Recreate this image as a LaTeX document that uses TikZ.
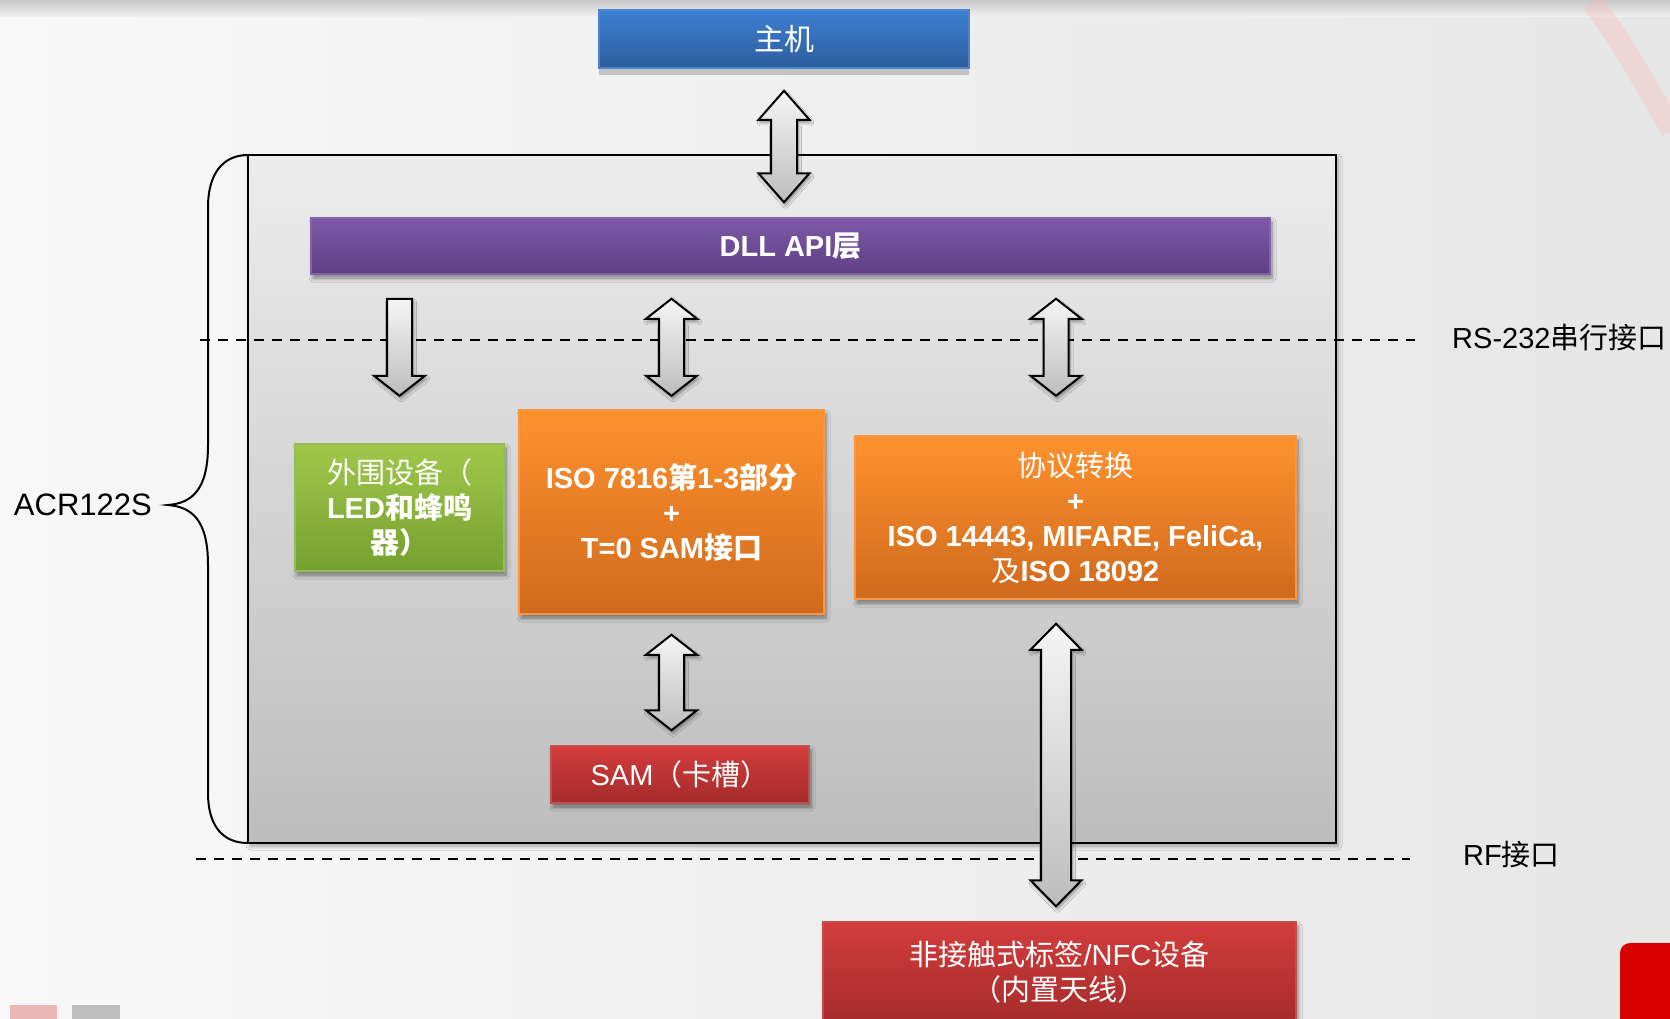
\documentclass[tikz,border=0pt]{standalone}
\usepackage{fontspec}
\setmainfont{Liberation Sans}
\newfontfamily\cjk{Noto Sans CJK SC}
\usetikzlibrary{shadows,shadows.blur,calc}
\definecolor{bluetop}{HTML}{3D80D4}
\definecolor{bluebot}{HTML}{2D5E9C}
\definecolor{blueedge}{HTML}{4A86D0}
\definecolor{purtop}{HTML}{7E59A8}
\definecolor{purbot}{HTML}{5E3F84}
\definecolor{puredge}{HTML}{8064A6}
\definecolor{grntop}{HTML}{9FC84A}
\definecolor{grnbot}{HTML}{75A030}
\definecolor{grnedge}{HTML}{9BBB59}
\definecolor{orgtop}{HTML}{FF922E}
\definecolor{orgbot}{HTML}{CF6A1D}
\definecolor{orgedge}{HTML}{F79646}
\definecolor{redtop}{HTML}{D33D3C}
\definecolor{redbot}{HTML}{A52B2B}
\definecolor{rededge}{HTML}{C0504D}
\definecolor{bgleft}{HTML}{F8F8F8}
\definecolor{bgright}{HTML}{E6E6E6}
\definecolor{maintop}{HTML}{ECECEC}
\definecolor{mainbot}{HTML}{BDBDBD}

\newcommand\dblarr[5]{%
  \path[arrowbox] let \p1=#1, \p2=#2 in
   (\x1,\y1) -- ({\x1+#5pt},{\y1-#3pt}) -- ({\x1+#4pt},{\y1-#3pt})
   -- ({\x1+#4pt},{\y2+#3pt}) -- ({\x1+#5pt},{\y2+#3pt}) -- (\x1,\y2)
   -- ({\x1-#5pt},{\y2+#3pt}) -- ({\x1-#4pt},{\y2+#3pt})
   -- ({\x1-#4pt},{\y1-#3pt}) -- ({\x1-#5pt},{\y1-#3pt}) -- cycle;}
\newcommand\downarr[5]{%
  \path[arrowbox] let \p1=#1, \p2=#2 in
   ({\x1-#4pt},\y1) -- ({\x1+#4pt},\y1)
   -- ({\x1+#4pt},{\y2+#3pt}) -- ({\x1+#5pt},{\y2+#3pt}) -- (\x1,\y2)
   -- ({\x1-#5pt},{\y2+#3pt}) -- ({\x1-#4pt},{\y2+#3pt}) -- cycle;}

\begin{document}
\begin{tikzpicture}[x=1pt,y=-1pt,
  box/.style={rectangle, inner sep=0pt, line width=1.5pt, text=white, align=center,
    font=\fontsize{29}{35}\selectfont,
    blur shadow={shadow xshift=2pt, shadow yshift=-4pt, shadow blur radius=4pt, shadow blur steps=6, shadow opacity=45}},
  boldbox/.style={box, font=\fontsize{29}{35}\selectfont\bfseries},
  arrowbox/.style={draw=black, line width=2pt, line join=miter, top color=white!96!black, bottom color=white!74!black,
    blur shadow={shadow xshift=1.5pt, shadow yshift=-3pt, shadow blur radius=3pt, shadow blur steps=5, shadow opacity=40}},
  dashline/.style={draw=black, line width=2pt, dash pattern=on 10pt off 8pt},
  lbl/.style={inner sep=0pt, font=\fontsize{29}{35}\selectfont, text=black}
]
\useasboundingbox (0,0) rectangle (1670,1018);
% background
\shade[left color=bgleft, right color=bgright] (0,0) rectangle (1670,1018);
\shade[top color=white!78!black, bottom color=bgleft!50!bgright] (0,0) rectangle (1670,16);
\draw[line width=22pt, color=red!30!white, opacity=.3] (1592,2) .. controls (1625,45) and (1648,90) .. (1672,130);
\fill[color=red!85!black, rounded corners=10pt] (1620,943) rectangle (1700,1060);
\fill[color=red!25!white!85!gray] (10,1005) rectangle (57,1025);
\fill[color=gray!50] (72,1005) rectangle (120,1025);

% brace
\draw[line width=2pt] (248,155) .. controls (222,155) and (208,175) .. (208,207)
  -- (208,445) .. controls (208,490) and (192,503) .. (168,505)
  .. controls (192,507) and (208,520) .. (208,565)
  -- (208,793) .. controls (208,825) and (222,843) .. (248,843);

% main reader box
\node[rectangle, draw=black, line width=2pt, top color=maintop, bottom color=mainbot,
  minimum width=1088pt, minimum height=688pt, inner sep=0pt,
  blur shadow={shadow xshift=2pt, shadow yshift=-3pt, shadow blur radius=4pt, shadow opacity=35}]
  (reader) at (792,499) {};

% dashed interface lines
\coordinate (rsL) at (200,340);
\coordinate (rsR) at (1415,340);
\coordinate (rfL) at (196,859);
\coordinate (rfR) at (1410,859);
\draw[dashline] (rsL) -- (rsR);
\draw[dashline] (rfL) -- (rfR);

% boxes
\node[rectangle, inner sep=0pt, draw=blueedge, line width=1.5pt, top color=bluetop, bottom color=bluebot,
  minimum width=370pt, minimum height=58pt, text=white, font=\fontsize{30}{35}\selectfont,
  drop shadow={shadow xshift=0pt, shadow yshift=-7pt, opacity=.4}]
  (host) at (784,39) {{\cjk 主机}};
\node[boldbox, draw=puredge, top color=purtop, bottom color=purbot,
  minimum width=959pt, minimum height=56pt] (dll) at (790.5,246) {DLL API{\cjk 层}};
\node[boldbox, draw=grnedge, top color=grntop, bottom color=grnbot,
  minimum width=209pt, minimum height=127pt] (green) at (399.5,507.5)
  {{\cjk\mdseries 外围设备（}\\LED{\cjk 和蜂鸣}\\{\cjk 器）}};
\node[boldbox, draw=orgedge, top color=orgtop, bottom color=orgbot,
  minimum width=305pt, minimum height=204pt] (iso) at (671.5,512)
  {ISO 7816{\cjk 第}1-3{\cjk 部分}\\+\\T=0 SAM{\cjk 接口}};
\node[boldbox, draw=orgedge, top color=orgtop, bottom color=orgbot,
  minimum width=441pt, minimum height=163pt] (proto) at (1075.5,517.5)
  {{\cjk\mdseries 协议转换}\\+\\ISO 14443, MIFARE, FeliCa,\\{\cjk\mdseries 及}ISO 18092};
\node[box, draw=rededge, top color=redtop, bottom color=redbot,
  minimum width=258pt, minimum height=57pt] (sam) at (680,774.5) {SAM{\cjk （卡槽）}};
\node[box, draw=rededge, top color=redtop, bottom color=redbot,
  minimum width=473pt, minimum height=101pt] (nfc) at (1059.5,972.5)
  {{\cjk 非接触式标签}/NFC{\cjk 设备}\\{\cjk （内置天线）}};

% block arrows
\coordinate (rfcol) at (1056,0);
\dblarr{($(host.south)+(0,22)$)}{($(host.south |- dll.north)+(0,-15)$)}{29}{13}{25.5}
\downarr{($(green.north |- dll.south)+(0,24)$)}{($(green.north |- dll.south)+(0,121)$)}{20}{12.5}{25.5}
\dblarr{($(iso.north |- dll.south)+(0,24)$)}{($(iso.north |- dll.south)+(0,121)$)}{20}{12.5}{25.5}
\dblarr{($(rfcol |- dll.south)+(0,24)$)}{($(rfcol |- dll.south)+(0,121)$)}{20}{12.5}{25.5}
\dblarr{($(iso.south)+(0,20)$)}{($(iso.south |- sam.north)+(0,-15)$)}{20}{12.5}{25.5}
\dblarr{($(rfcol |- proto.south)+(0,24)$)}{($(rfcol |- nfc.north)+(0,-15)$)}{26}{15}{25.5}

% labels
\node[lbl, anchor=west] (rslbl) at (1452,338) {RS-232{\cjk 串行接口}};
\node[lbl, anchor=west] (rflbl) at (1463,855) {RF{\cjk 接口}};
\node[lbl, anchor=east, font=\fontsize{31}{35}\selectfont] (acr) at (152,505) {ACR122S};
\end{tikzpicture}
\end{document}
